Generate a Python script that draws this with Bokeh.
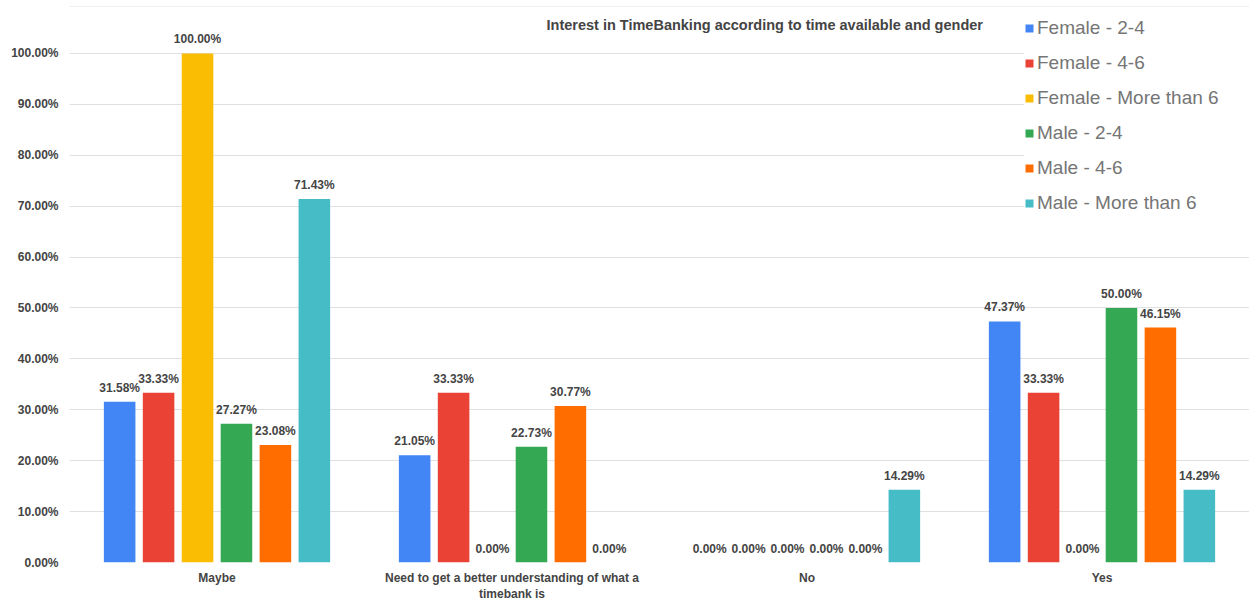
from bokeh.plotting import figure
from bokeh.models import (ColumnDataSource, Range1d, Legend, LegendItem, Label,
                          FixedTicker, PrintfTickFormatter, Span)
from bokeh.transform import dodge
from bokeh.core.properties import value
from bokeh.embed import file_html
from bokeh.resources import INLINE

# ---- data ----
categories = ["Maybe",
              "Need to get a better understanding of what a\ntimebank is",
              "No",
              "Yes"]
series_names = ["Female - 2-4", "Female - 4-6", "Female - More than 6",
                "Male - 2-4", "Male - 4-6", "Male - More than 6"]
female_2_4 = [31.58, 21.05, 0.00, 47.37]
female_4_6 = [33.33, 33.33, 0.00, 33.33]
female_gt6 = [100.00, 0.00, 0.00, 0.00]
male_2_4 = [27.27, 22.73, 0.00, 50.00]
male_4_6 = [23.08, 30.77, 0.00, 46.15]
male_gt6 = [71.43, 0.00, 14.29, 14.29]
y_ticks = [0, 10, 20, 30, 40, 50, 60, 70, 80, 90, 100]
title_text = "Interest in TimeBanking according to time available and gender"

series_values = [female_2_4, female_4_6, female_gt6, male_2_4, male_4_6, male_gt6]
colors = ["#4285F4", "#EA4335", "#FBBC04", "#34A853", "#FF6D01", "#46BDC6"]

FONT = "Liberation Sans"
TXT = "#444444"

n = len(categories)
cat_pos = [i + 0.5 for i in range(n)]

p = figure(x_range=Range1d(0, n), y_range=Range1d(0, 109.23),
           width=1249, height=604, output_backend="svg", toolbar_location=None,
           min_border_left=69, min_border_right=0, min_border_top=6,
           min_border_bottom=42)
p.outline_line_color = None
p.background_fill_color = "white"
p.border_fill_color = "white"

p.xgrid.grid_line_color = None
p.ygrid.grid_line_color = "#e0e0e0"
p.ygrid.grid_line_width = 1

p.yaxis.ticker = FixedTicker(ticks=y_ticks)
p.yaxis.formatter = PrintfTickFormatter(format="%.2f%%")
p.xaxis.ticker = FixedTicker(ticks=cat_pos)
p.xaxis.major_label_overrides = dict(zip(cat_pos, categories))

for ax in (p.xaxis[0], p.yaxis[0]):
    ax.axis_line_color = None
    ax.major_tick_line_color = None
    ax.minor_tick_line_color = None
    ax.major_tick_out = 0
    ax.minor_tick_out = 0
    ax.major_label_text_font = FONT
    ax.major_label_text_font_style = "bold"
    ax.major_label_text_font_size = "12px"
    ax.major_label_text_color = TXT
p.yaxis.major_label_standoff = 11
p.xaxis.major_label_standoff = 8

top_line = Span(location=109.23, dimension="width", line_color="#e0e0e0",
                line_width=1)
p.add_layout(top_line)

step = 0.132
bar_w = 0.107
items = []
for i, (name, vals, col) in enumerate(zip(series_names, series_values, colors)):
    off = (i - 2.5) * step
    src = ColumnDataSource(dict(pos=cat_pos, val=vals,
                                lab=["%.2f%%" % v for v in vals]))
    r = p.vbar(x=dodge("pos", off), top="val", width=bar_w,
               source=src, fill_color=col, line_color=None)
    p.text(x=dodge("pos", off), y="val", text="lab", source=src,
           text_align="center", text_baseline="alphabetic", y_offset=-14,
           text_font=value(FONT), text_font_style="bold",
           text_font_size="12px", text_color=TXT)
    items.append(LegendItem(label=name, renderers=[r]))

legend = Legend(items=items, location=(955, 348), margin=0, padding=11,
                spacing=13, label_height=20, glyph_height=10, glyph_width=10,
                label_standoff=3, label_width=230,
                label_text_font=FONT, label_text_font_size="19px",
                label_text_color="#757575", background_fill_color="white",
                background_fill_alpha=1.0, border_line_color=None)
p.add_layout(legend)

title = Label(x=1.617, y=105.5, text=title_text, text_align="left",
              text_baseline="middle", text_font=FONT, text_font_style="bold",
              text_font_size="14.5px", text_color=TXT)
p.add_layout(title)

open("out.html", "w").write(file_html(p, INLINE))
